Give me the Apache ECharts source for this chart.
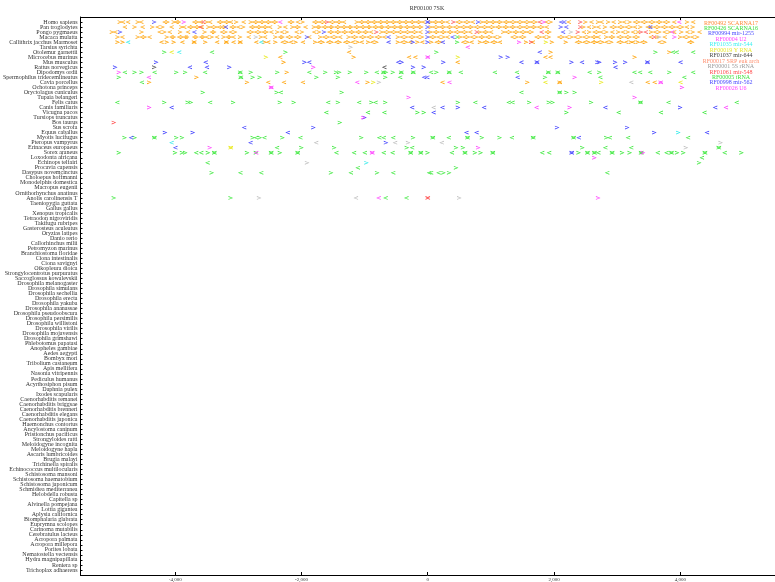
<!DOCTYPE html>
<html><head><meta charset="utf-8">
<script src="https://cdn.jsdelivr.net/npm/echarts@6/dist/echarts.min.js"></script>
<style>html,body{margin:0;padding:0;background:#fff}#c{width:775px;height:582px}</style>
</head><body><div id="c"></div>
<script>
const species = ['Homo sapiens','Pan troglodytes','Pongo pygmaeus','Macaca mulatta','Callithrix jacchus Marmoset','Tarsius syrichta','Otolemur garnettii','Microcebus murinus','Mus musculus','Rattus norvegicus','Dipodomys ordii','Spermophilus tridecemlineatus','Cavia porcellus','Ochotona princeps','Oryctolagus cuniculus','Tupaia belangeri','Felis catus','Canis familiaris','Vicugna pacos','Tursiops truncatus','Bos taurus','Sus scrofa','Equus caballus','Myotis lucifugus','Pteropus vampyrus','Erinaceus europaeus','Sorex araneus','Loxodonta africana','Echinops telfairi','Procavia capensis','Dasypus novemcinctus','Choloepus hoffmanni','Monodelphis domestica','Macropus eugenii','Ornithorhynchus anatinus','Anolis carolinensis T','Taeniopygia guttata','Gallus gallus','Xenopus tropicalis','Tetraodon nigroviridis','Takifugu rubripes','Gasterosteus aculeatus','Oryzias latipes','Danio rerio','Callorhinchus milii','Petromyzon marinus','Branchiostoma floridae','Ciona intestinalis','Ciona savignyi','Oikopleura dioica','Strongylocentrotus purpuratus','Saccoglossus kowalevskii','Drosophila melanogaster','Drosophila simulans','Drosophila sechellia','Drosophila erecta','Drosophila yakuba','Drosophila ananassae','Drosophila pseudoobscura','Drosophila persimilis','Drosophila willistoni','Drosophila virilis','Drosophila mojavensis','Drosophila grimshawi','Phlebotomus papatasi','Anopheles gambiae','Aedes aegypti','Bombyx mori','Tribolium castaneum','Apis mellifera','Nasonia vitripennis','Pediculus humanus','Acyrthosiphon pisum','Daphnia pulex','Ixodes scapularis','Caenorhabditis remanei','Caenorhabditis briggsae','Caenorhabditis brenneri','Caenorhabditis elegans','Caenorhabditis japonica','Haemonchus contortus','Ancylostoma caninum','Pristionchus pacificus','Strongyloides ratti','Meloidogyne incognita','Meloidogyne hapla','Ascaris lumbricoides','Brugia malayi','Trichinella spiralis','Echinococcus multilocularis','Schistosoma mansoni','Schistosoma haematobium','Schistosoma japonicum','Schmidtea mediterranea','Helobdella robusta','Capitella sp','Alvinella pompejana','Lottia gigantea','Aplysia californica','Biomphalaria glabrata','Euprymna scolopes','Carinoma mutabilis','Cerebratulus lacteus','Acropora palmata','Acropora millepora','Porites lobata','Nematostella vectensis','Hydra magnipapillata','Reniera sp','Trichoplax adhaerens'];

const xTicks = [-4000, -2000, 0, 2000, 4000];
const titleText = 'RF00100 7SK';

const legendNames = ['RF00492 SCARNA17','RF00426 SCARNA16','RF00994 mir-1255','RF00004 U2','RF01035 mir-544','RF00019 Y RNA','RF01037 mir-644','RF00017 SRP euk arch','RF00001 5S rRNA','RF01061 mir-548','RF00005 tRNA','RF00998 mir-562','RF00026 U6'];
const legendColors = ['#ff8c3a','#3ee03e','#4a4aff','#ff44ff','#3ef0f0','#e8e830','#444444','#ff9070','#9a9a9a','#ff5050','#3ee03e','#4a4aff','#ff44ff'];

// hits: [row, direction (1 = '>', -1 = '<'), x positions...]
const orangeHits = [
 [0,1,-4875,-4590,-4120,-4020,-3940,-3650,-3500,-3260,-3160,-3030,-2800,-2700,-2600,-2500,-2400,-2140,-1980,-1750,-1640,-1480,-1380,-1120,-1020,-920,-820,-720,-620,-520,-420,-320,-220,-120,50,150,250,530,650,860,960,1060,1160,1270,1380,1490,1600,1710,1950,2500,2700,2860,3050,3200,3340,3460,3580,3690,3810,4110],
 [0,-1,-4830,-4750,-4540,-4170,-3980,-3700,-3600,-3450,-3310,-3210,-3120,-2920,-2750,-2650,-2550,-2450,-2190,-2060,-1800,-1700,-1540,-1430,-1330,-1070,-970,-870,-770,-670,-570,-470,-370,-270,-170,-70,100,200,310,470,590,710,910,1010,1110,1220,1320,1430,1540,1650,1880,2230,2590,2750,2940,3110,3280,3400,3520,3640,3750,3900,4200],
 [1,1,-4640,-4360,-4200,-3900,-3730,-3630,-3470,-3360,-3210,-3060,-2920,-2750,-2650,-2550,-2340,-2140,-2040,-1800,-1710,-1600,-1510,-1400,-1300,-1210,-1100,-1000,-910,-800,-710,-600,-500,-410,-300,-200,-100,50,160,260,370,490,600,700,820,930,1040,1150,1260,1370,1490,1600,1700,1820,2470,2640,2810,2970,3090,3220,3370,3540,3660,3780,3900,4030,4200],
 [1,-1,-4800,-4520,-4280,-4060,-3860,-3780,-3680,-3580,-3420,-3310,-3260,-3110,-3000,-2800,-2700,-2600,-2500,-2260,-2090,-1940,-1750,-1650,-1550,-1450,-1350,-1250,-1150,-1050,-950,-850,-750,-650,-550,-450,-350,-250,-150,100,210,320,430,540,650,760,870,980,1100,1210,1320,1430,1540,1650,1760,1880,2550,2700,2910,3030,3150,3280,3480,3600,3720,3840,3960,4100],
 [2,1,-5000,-4530,-4170,-3920,-3530,-3380,-3200,-3050,-2780,-2660,-2550,-2380,-2230,-1990,-1720,-1510,-1400,-1290,-1180,-1070,-960,-730,-620,-510,-400,-290,-180,50,160,270,380,500,610,830,940,1200,1310,1420,1540,1650,1930,2560,2700,2830,3020,3170,3330,3540,3670,3830,4020,4200],
 [2,-1,-4950,-4250,-4090,-3800,-3420,-3260,-3120,-2840,-2720,-2600,-2480,-2310,-2080,-1800,-1560,-1450,-1340,-1230,-1120,-1010,-900,-680,-570,-460,-350,-240,-120,110,220,330,440,550,670,890,1000,1250,1370,1480,1590,1880,2470,2640,2750,2920,3090,3250,3600,3750,3900,4110,4300],
 [3,1,-4910,-4590,-4480,-4130,-4020,-3890,-3810,-3660,-3550,-3420,-3230,-3130,-2970,-2640,-2410,-2300,-2160,-2030,-1700,-1580,-1450,-1250,-1130,-1000,-880,-750,-470,-340,-220,-90,110,250,520,640,770,880,1000,1140,1410,1530,1780,1920,2140,2280,2420,2550,2660,2830,2940,3080,3200,3330,3640,4000,4130,4270],
 [3,-1,-4840,-4530,-4410,-4060,-3940,-3840,-3700,-3590,-3500,-3340,-3170,-3080,-2840,-2580,-2340,-2220,-2090,-1880,-1640,-1520,-1390,-1190,-1060,-940,-810,-690,-410,-280,-160,50,170,310,580,700,830,940,1060,1340,1470,1720,1840,2080,2200,2340,2480,2610,2700,2890,3020,3140,3270,3530,3750,4060,4190],
 [4,1,-4910,-4830,-4130,-4020,-3700,-3520,-3190,-2970,-2580,-2410,-2230,-2090,-1780,-1660,-1520,-1390,-1250,-1110,-940,-810,-470,-340,-160,60,200,630,830,950,1080,1560,1970,2190,2420,2550,2660,2770,2910,3080,3220,3330,3450,3750,4190],
 [4,-1,-4220,-3890,-3700,-3340,-3190,-3080,-2970,-2720,-2530,-2300,-2170,-1980,-1720,-1580,-1450,-1310,-1190,-1050,-880,-410,-280,-90,140,560,690,890,1020,1140,1660,2360,2480,2610,2700,2830,3020,3140,3250,3390,3670,4140],
 [6,1,1950,3830],[6,-1,-1250],
 [7,1,-1170,3280],[7,-1,-2340,-300,-200,1860,1940],
 [8,1,-2280],[8,-1,470],
 [10,1,-2230],[11,1,-3660],
 [12,1,-4410,-2860,-950,1580,2090],[12,-1,-2530,-2280,-1980,230,2090,3480,3590]
];
const greenHits = [
 [3,1,470],[4,1,469],
 [6,1,-4170,-2250,140,3610],[6,-1,-3420,3880,3940,4200],
 [10,1,-4640,-4530,-3980,-3840,-2970,-2800,-2380,-1620,-1450,-1400,-1230,-970,-700,-660,-550,-420,-230,140,340,1910,2060,2720,3830],
 [10,-1,-4800,-4330,-3530,-2970,-1880,-810,-700,-420,-230,50,340,520,1060,1410,1910,2060,2560,3270,3360,3520,4200],
 [11,1,-4890,-2960,-2770,-2660,-1760,-1420,-670,1860],[11,-1,-2960,-440,2730,4060],
 [12,-1,-4530],
 [14,1,-3560,-2390,-1360,2090,2200,2330],[14,-1,-2330,1480,2090],
 [16,1,-4170,-3800,-3750,-3080,-2340,-2120,-1420,-890,-670,480,1610,1920,1980,2590,3370],
 [16,-1,-4920,-3450,-1580,-1090,-830,750,1280,1340,3370,3810,4890],
 [18,1,-160,-60,2200],[18,-1,-1610,-950,-690,3020,3690,4380],
 [20,1,-1390],
 [23,1,-4800,-4640,-4330,-3980,-3890,-2770,-2660,-2300,-1050,-230,80,630,860,1140,1670,2310,2830],
 [23,-1,-4330,-2720,-2590,-2020,-770,-700,-550,80,330,630,1330,1670,2310,2880,3170,4120],
 [25,1,-2000,-1480,-330,450,560,2450,4610],[25,-1,-2390,-250,2810,3220,4610],
 [26,1,-4890,-4000,-3890,-3840,-3480,-3380,-2860,-2720,-2480,-2340,-2060,-270,-110,0,590,750,840,1030,2390,2530,2640,2920,3080,3200,3380,3860,3950,4050,4390,4970],
 [26,-1,-3670,-3590,-3380,-2480,-2060,-1450,-1170,-1000,-700,-560,-270,-110,380,590,1030,1810,1920,2530,2640,2700,2920,3380,3640,3780,3860,4390,4700],
 [27,-1,4340],[28,1,4300],[28,-1,-3490],[29,1,450],[29,-1,-1110],
 [30,1,-3420,-1530,-800,250,340],[30,-1,-2970,-2640,-1220,-550,20,50,170,2840],
 [35,1,-4970,-3120],[35,-1,-670,-340]
];
const blueHits = [
 [0,1,-4330,0,800],[0,-1,0,2110,2160],
 [1,1,0,2110],[1,-1,-3200,2190,3520],
 [2,1,-4870,-1640,0],[2,-1,-3700,2140],
 [3,1,-1910,0],[3,-1,-625,390],
 [4,1,-234,0],[4,-1,-625,234],
 [6,-1,1770],[7,1,1160,1270],
 [8,1,-4300,-1950,-410,250,1730,2280,2690,2720,2970,3130,3480],[8,-1,-3520,-1880,-470,1480,1730,2440,3480,4000],
 [9,1,-4950,-3140,-230,-60],[9,-1,-3770,-3500,2970],
 [11,-1,-60,-10,1420],
 [17,1,480,4000],[17,-1,-4060,-250,230,890,2810,4550],
 [18,-1,90],[19,1,-1000],
 [21,1,-1810,2050,3160],[21,-1,-2910],
 [22,1,-4160,-3720,3590],[22,-1,-2220,610,770,4420],
 [23,-1,-4700,2390],[24,1,-660],[24,-1,-2810],[25,-1,-4000],
 [26,1,2280],[26,-1,2280]
];
const magentaHits = [
 [0,1,-3860,1840],[0,-1,-2340,3980],[2,-1,3870],[3,1,3910],[4,1,1450],[5,-1,630],
 [7,1,0],[7,-1,0],[9,1,-1810],[10,1,-4890],[11,-1,-4420],[11,1,2330],
 [12,-1,-1120,340,3690],[12,1,3690],[13,1,-2480,4030],[13,-1,-2480],[15,1,-300,3280],
 [17,1,-4410,2250],[17,-1,1720,4720],[19,1,-1020],[25,1,-3450,800],
 [26,1,-880,3410],[26,-1,-880,-2720],[27,1,2640],[35,-1,-780],[35,1,2700]
];
const cyanHits = [[4,-1,-4750,-2640],[6,-1,-3940],[22,1,3970],[24,-1,-4060],[28,1,-970]];
const yellowHits = [[4,1,1875],[6,-1,-4060],[7,1,-2560,480],[12,1,-860,2750],[12,-1,1860,4000],[25,1,-3120],[25,-1,-3120]];
const darkGrayHits = [[9,1,-4330],[9,-1,-690]];
const lightGrayHits = [[2,1,2270],[3,1,-2720,3670],[5,1,-1220],[12,1,-770],[12,-1,3220],[17,-1,90],[24,-1,-1770,-520,220],[24,1,-310,4640],[25,1,4090],[28,1,-1910],[35,1,-2670,500],[35,-1,-1140]];
const redHits = [[0,-1,-3560,1770],[0,1,-1590,410,2420],[1,1,2420],[1,-1,-3600],[2,1,-810,780,2380,3380],[2,-1,1800,3450],[3,1,3590],[4,1,1640],[20,1,-4970],[35,1,0],[35,-1,0]];

const seriesDefs = [
 {name: legendNames[0], color: '#ffa000', hits: orangeHits},
 {name: legendNames[10], color: '#3ae83a', hits: greenHits},
 {name: legendNames[2], color: '#4040ff', hits: blueHits},
 {name: legendNames[12], color: '#ff40ff', hits: magentaHits},
 {name: legendNames[4], color: '#30eaea', hits: cyanHits},
 {name: legendNames[5], color: '#e8e810', hits: yellowHits},
 {name: legendNames[6], color: '#505050', hits: darkGrayHits},
 {name: legendNames[8], color: '#bcbcbc', hits: lightGrayHits},
 {name: legendNames[9], color: '#ff4848', hits: redHits}
];

const RIGHT = 'path://M0,0L10,5L0,10L0,7.6L7,5L0,2.4Z';
const LEFT = 'path://M10,0L0,5L10,10L10,7.6L3,5L10,2.4Z';

const series = seriesDefs.map(function (d) {
  const data = [];
  d.hits.forEach(function (h) {
    const row = h[0], dir = h[1];
    for (let i = 2; i < h.length; i++) {
      data.push({value: [h[i], row], symbol: dir > 0 ? RIGHT : LEFT});
    }
  });
  return {
    type: 'scatter', name: d.name, data: data, symbolSize: [4.6, 3.8],
    itemStyle: {color: d.color, opacity: 1}, silent: true, animation: false
  };
});

const graphics = [{
  type: 'text', x: 427, y: 8.5,
  style: {text: titleText, fontSize: 6, fontFamily: 'Liberation Serif', fill: '#333', textAlign: 'center', textVerticalAlign: 'middle'}
}];
legendNames.forEach(function (n, i) {
  graphics.push({type: 'text', x: 731, y: 23 + 5.44 * i,
    style: {text: n, fontSize: 6, fontFamily: 'Liberation Serif', fill: legendColors[i], textAlign: 'center', textVerticalAlign: 'middle'}});
});

const chart = echarts.init(document.getElementById('c'), null, {renderer: 'canvas'});
chart.setOption({
  animation: false,
  backgroundColor: '#fff',
  grid: {left: 75, right: -4, top: 17, bottom: 7, containLabel: false},
  xAxis: [{
    type: 'value', min: -5500, max: 5500, position: 'bottom',
    axisLine: {show: true, onZero: false, lineStyle: {color: '#000', width: 1}},
    axisTick: {show: true, inside: true, length: 3, customValues: xTicks, lineStyle: {color: '#000'}},
    axisLabel: {show: true, customValues: xTicks, fontSize: 5, fontFamily: 'Liberation Serif', color: '#333', margin: 2},
    splitLine: {show: false}
  }, {
    type: 'value', min: -5500, max: 5500, position: 'top',
    axisLine: {show: true, onZero: false, lineStyle: {color: '#000', width: 1}},
    axisTick: {show: true, inside: true, length: 3, customValues: xTicks, lineStyle: {color: '#000'}},
    axisLabel: {show: false}, splitLine: {show: false}
  }],
  yAxis: {
    type: 'value', inverse: true, min: -1, max: 110, interval: 1,
    axisLine: {show: true, onZero: false, lineStyle: {color: '#000', width: 1}},
    axisTick: {show: true, inside: true, length: 2, lineStyle: {color: '#000'}},
    axisLabel: {fontSize: 6, fontFamily: 'Liberation Serif', color: '#333', margin: 3,
      formatter: function (v) { return species[v] || ''; }},
    splitLine: {show: false}
  },
  graphic: graphics,
  series: series
});
</script></body></html>
